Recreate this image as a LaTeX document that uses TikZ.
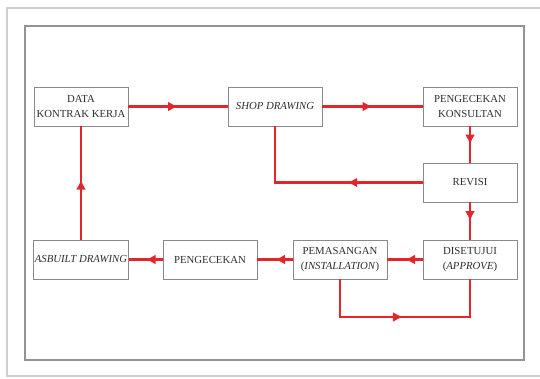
\documentclass[tikz,border=0pt]{standalone}
\usepackage{fontspec}
\setmainfont{Liberation Serif}
\usetikzlibrary{arrows.meta,decorations.markings}
\definecolor{flowred}{HTML}{E2262B}
\definecolor{boxgray}{HTML}{8A8A8A}
\definecolor{outergray}{HTML}{CFCFCF}
\definecolor{innergray}{HTML}{939393}
\definecolor{textgray}{HTML}{2E2E2E}
\begin{document}
\begin{tikzpicture}[x=1bp,y=-1bp,
  box/.style={draw=boxgray,line width=0.8bp,minimum width=94bp,minimum height=39bp,
    inner sep=1bp,align=center,text=textgray,font=\fontsize{10.8}{15.5}\selectfont},
  flow/.style={draw=flowred,line width=2.6bp},
  midarrow/.style={decoration={markings,mark=at position #1 with {\arrow[flowred]{Latex[length=10bp,width=10bp]}}},postaction={decorate}},
  midarrow/.default=0.5]
\useasboundingbox (0,0) rectangle (540,378);
% frames
\draw[outergray,line width=1.6bp] (540,8) -- (7,8) -- (7,376) -- (540,376);
\draw[innergray,line width=1.3bp] (25,26) rectangle (524,360);
% boxes
\node[box] (data) at (81,106.5) {DATA\\KONTRAK KERJA};
\node[box] (shop) at (275,106.5) {\itshape SHOP DRAWING};
\node[box] (kons) at (470,106.5) {PENGECEKAN\\KONSULTAN};
\node[box] (rev) at (470,182.5) {REVISI};
\node[box] (dis) at (470,259.5) {DISETUJUI\\(\textit{APPROVE})};
\node[box] (pem) at (340,259.5) {PEMASANGAN\\(\textit{INSTALLATION})};
\node[box] (cek) at (210,259.5) {PENGECEKAN};
\node[box] (asb) at (81,259.5) {\itshape ASBUILT DRAWING};
\coordinate (loop) at (405,317);
% connectors
\draw[flow,midarrow] (data.east) -- (shop.west);
\draw[flow,midarrow] (shop.east) -- (kons.west);
\draw[flow,midarrow] (kons.south) -- (rev.north);
\draw[flow,midarrow=0.37] (rev.west) -| (shop.south);
\draw[flow,midarrow] (rev.south) -- (dis.north);
\draw[flow,midarrow] (dis.west) -- (pem.east);
\draw[flow,midarrow] (pem.west) -- (cek.east);
\draw[flow,midarrow] (cek.west) -- (asb.east);
\draw[flow,midarrow=0.53] (asb.north) -- (data.south);
\draw[flow,midarrow=0.49] (pem.south) |- (loop) -| (dis.south);
\end{tikzpicture}
\end{document}
